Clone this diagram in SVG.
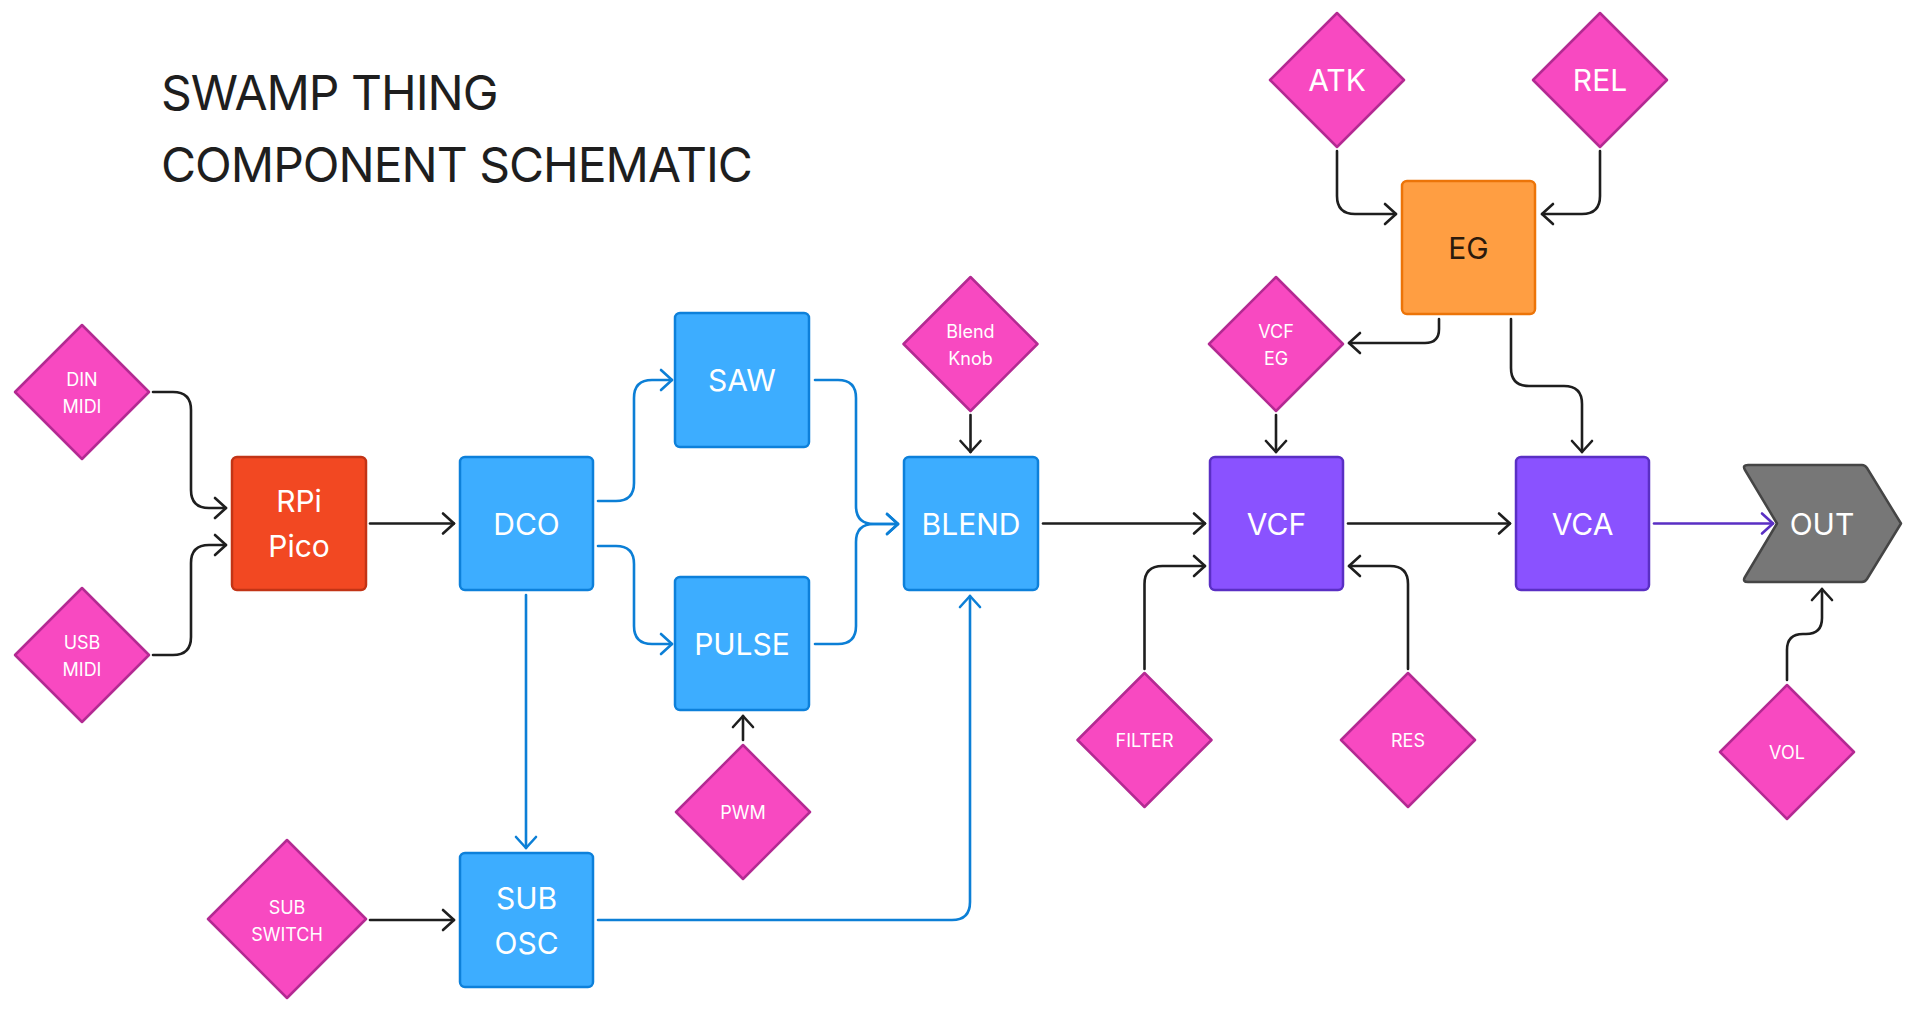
<svg xmlns="http://www.w3.org/2000/svg" width="1914" height="1027" viewBox="0 0 1914 1027">
<style>
text{font-family:Inter,"Noto Sans","Liberation Sans",sans-serif;text-anchor:middle;dominant-baseline:central}
.title{font-size:48px;fill:#1e1e1e;text-anchor:start;dominant-baseline:alphabetic;letter-spacing:-1px}
.big{font-size:30px;fill:#ffffff}
.sm{font-size:18px;fill:#ffffff}
.dia{fill:#F849C1;stroke:#B32A92;stroke-width:2.5;stroke-linejoin:round}
.blue{fill:#3DADFF;stroke:#0D80DA;stroke-width:2.5}
.purple{fill:#8A52FF;stroke:#5A2FC4;stroke-width:2.5}
.red{fill:#F24822;stroke:#C23416;stroke-width:2.5}
.orange{fill:#FF9E42;stroke:#EC7408;stroke-width:2.5}
.out{fill:#777777;stroke:#454545;stroke-width:2.5;stroke-linejoin:round}
.c{fill:none;stroke-width:2.6;stroke-linecap:round;stroke-linejoin:round}
.k{stroke:#1e1e1e;marker-end:url(#ak)}
.b{stroke:#0C7FD6;marker-end:url(#ab)}
.p{stroke:#5A2FC4;marker-end:url(#ap)}
</style>
<defs>
<marker id="ak" markerUnits="userSpaceOnUse" markerWidth="30" markerHeight="30" viewBox="-15 -15 30 30" refX="0" refY="0" orient="auto"><path d="M-11,-10 L0,0 L-11,10" fill="none" stroke="#1e1e1e" stroke-width="2.6" stroke-linecap="round" stroke-linejoin="round"/></marker>
<marker id="ab" markerUnits="userSpaceOnUse" markerWidth="30" markerHeight="30" viewBox="-15 -15 30 30" refX="0" refY="0" orient="auto"><path d="M-11,-10 L0,0 L-11,10" fill="none" stroke="#0C7FD6" stroke-width="2.6" stroke-linecap="round" stroke-linejoin="round"/></marker>
<marker id="ap" markerUnits="userSpaceOnUse" markerWidth="30" markerHeight="30" viewBox="-15 -15 30 30" refX="0" refY="0" orient="auto"><path d="M-11,-10 L0,0 L-11,10" fill="none" stroke="#5A2FC4" stroke-width="2.6" stroke-linecap="round" stroke-linejoin="round"/></marker>
</defs>
<rect width="1914" height="1027" fill="#ffffff"/>
<g id="title">
<text class="title" x="161" y="110">SWAMP THING</text>
<text class="title" x="161" y="182">COMPONENT SCHEMATIC</text>
</g>
<g id="connectors">
<path class="c k" d="M153,392 H173 Q191,392 191,410 V490 Q191,508 209,508 H226"/>
<path class="c k" d="M153,655 H173 Q191,655 191,637 V563 Q191,545 209,545 H226"/>
<path class="c k" d="M370,523.5 H454"/>
<path class="c b" d="M598,501 H616 Q634,501 634,483 V398 Q634,380 652,380 H672"/>
<path class="c b" d="M598,546 H616 Q634,546 634,564 V626 Q634,644 652,644 H672"/>
<path class="c b" d="M815,380 H838 Q856,380 856,398 V506 Q856,524 874,524 H898"/>
<path class="c b" d="M815,644 H838 Q856,644 856,626 V542 Q856,524 874,524 H898"/>
<path class="c b" d="M526,595 V848"/>
<path class="c k" d="M370,920 H454"/>
<path class="c b" d="M598,920 H952 Q970,920 970,902 V596"/>
<path class="c k" d="M743,740 V716"/>
<path class="c k" d="M970.5,415 V452"/>
<path class="c k" d="M1043,523.5 H1205"/>
<path class="c k" d="M1144.5,669 V584 Q1144.5,566 1162.5,566 H1205"/>
<path class="c k" d="M1408,669 V584 Q1408,566 1390,566 H1349"/>
<path class="c k" d="M1276,415 V452"/>
<path class="c k" d="M1348,523.5 H1510"/>
<path class="c p" d="M1654,523.5 H1773"/>
<path class="c k" d="M1787,680 V650 Q1787,634 1803,634 H1806 Q1822,634 1822,618 V589"/>
<path class="c k" d="M1337,151 V196 Q1337,214 1355,214 H1396"/>
<path class="c k" d="M1600,151 V196 Q1600,214 1582,214 H1542"/>
<path class="c k" d="M1439,319 V329 Q1439,343 1425,343 H1349"/>
<path class="c k" d="M1511,319 V368 Q1511,386 1529,386 H1564 Q1582,386 1582,404 V452"/>
</g>
<g id="din-midi"><path class="dia" d="M82,325 L149,392 L82,459 L15,392 Z"/><text class="sm" x="82" y="379">DIN</text><text class="sm" x="82" y="406">MIDI</text></g>
<g id="usb-midi"><path class="dia" d="M82,588 L149,655 L82,722 L15,655 Z"/><text class="sm" x="82" y="642">USB</text><text class="sm" x="82" y="669">MIDI</text></g>
<g id="rpi-pico"><rect class="red" x="232" y="457" width="134" height="133" rx="5"/><text class="big" x="299" y="501">RPi</text><text class="big" x="299" y="546">Pico</text></g>
<g id="dco"><rect class="blue" x="460" y="457" width="133" height="133" rx="5"/><text class="big" x="526.5" y="524">DCO</text></g>
<g id="saw"><rect class="blue" x="675" y="313" width="134" height="134" rx="5"/><text class="big" x="742" y="380">SAW</text></g>
<g id="pulse"><rect class="blue" x="675" y="577" width="134" height="133" rx="5"/><text class="big" x="742" y="644">PULSE</text></g>
<g id="pwm"><path class="dia" d="M743,745 L810,812 L743,879 L676,812 Z"/><text class="sm" x="743" y="812">PWM</text></g>
<g id="sub-osc"><rect class="blue" x="460" y="853" width="133" height="134" rx="5"/><text class="big" x="526.5" y="898">SUB</text><text class="big" x="526.5" y="943">OSC</text></g>
<g id="sub-switch"><path class="dia" d="M287,840 L366,919 L287,998 L208,919 Z"/><text class="sm" x="287" y="907">SUB</text><text class="sm" x="287" y="934">SWITCH</text></g>
<g id="blend-knob"><path class="dia" d="M970.5,277 L1037.5,344 L970.5,411 L903.5,344 Z"/><text class="sm" x="970.5" y="331">Blend</text><text class="sm" x="970.5" y="358">Knob</text></g>
<g id="blend"><rect class="blue" x="904" y="457" width="134" height="133" rx="5"/><text class="big" x="971" y="524">BLEND</text></g>
<g id="vcf-eg"><path class="dia" d="M1276,277 L1343,344 L1276,411 L1209,344 Z"/><text class="sm" x="1276" y="331">VCF</text><text class="sm" x="1276" y="358">EG</text></g>
<g id="vcf"><rect class="purple" x="1210" y="457" width="133" height="133" rx="5"/><text class="big" x="1276.5" y="524">VCF</text></g>
<g id="filter"><path class="dia" d="M1144.5,673 L1211.5,740 L1144.5,807 L1077.5,740 Z"/><text class="sm" x="1144.5" y="740">FILTER</text></g>
<g id="res"><path class="dia" d="M1408,673 L1475,740 L1408,807 L1341,740 Z"/><text class="sm" x="1408" y="740">RES</text></g>
<g id="vca"><rect class="purple" x="1516" y="457" width="133" height="133" rx="5"/><text class="big" x="1582.5" y="524">VCA</text></g>
<g id="out"><path class="out" d="M1748,465 H1862 Q1865,465 1867,468 L1901,523.5 L1867,579 Q1865,582 1862,582 H1748 Q1742,582 1745,577 L1777,523.5 L1745,470 Q1742,465 1748,465 Z"/><text class="big" x="1822" y="524">OUT</text></g>
<g id="vol"><path class="dia" d="M1787,685 L1854,752 L1787,819 L1720,752 Z"/><text class="sm" x="1787" y="752">VOL</text></g>
<g id="atk"><path class="dia" d="M1337,13 L1404,80 L1337,147 L1270,80 Z"/><text class="big" x="1337" y="80">ATK</text></g>
<g id="rel"><path class="dia" d="M1600,13 L1667,80 L1600,147 L1533,80 Z"/><text class="big" x="1600" y="80">REL</text></g>
<g id="eg"><rect class="orange" x="1402" y="181" width="133" height="133" rx="5"/><text class="big" x="1468.5" y="248" style="fill:#2b1a0c">EG</text></g>
</svg>
